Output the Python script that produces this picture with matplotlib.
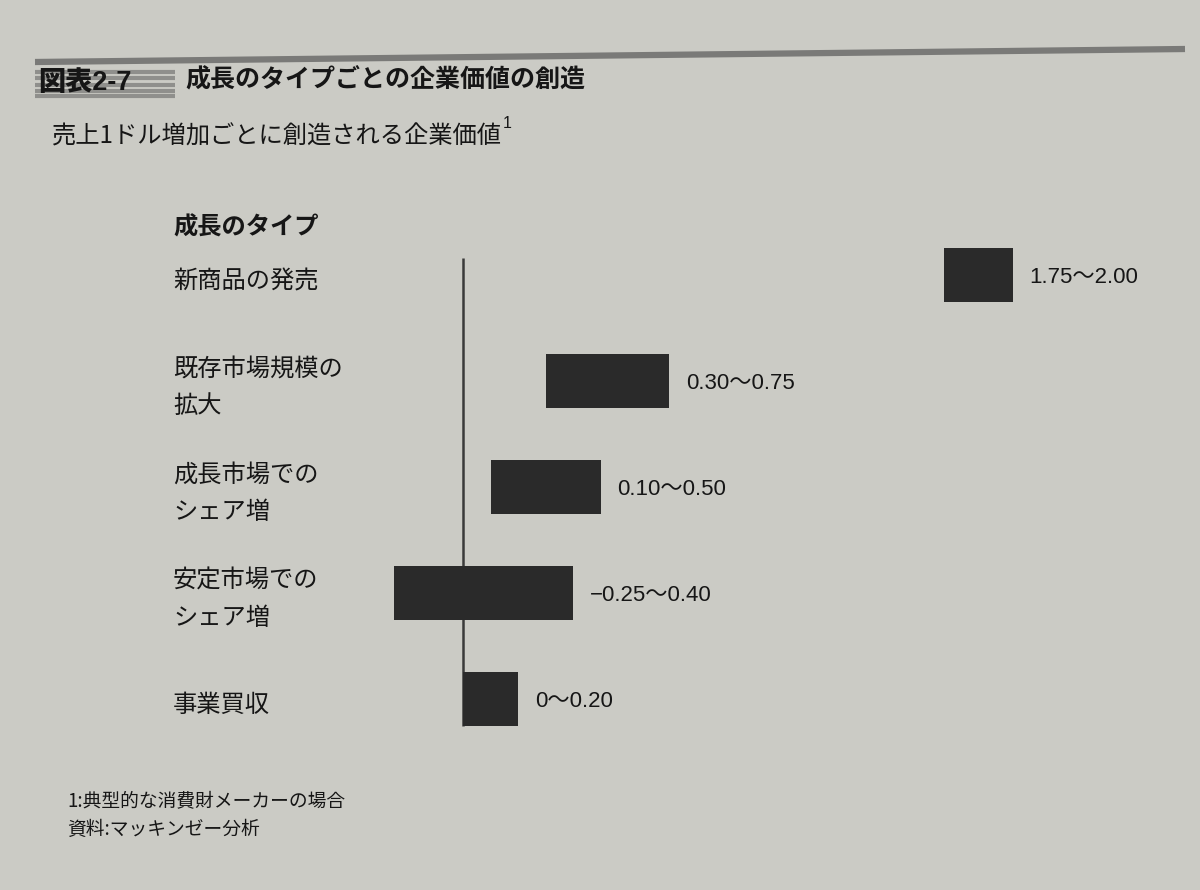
import matplotlib
matplotlib.use("Agg")
import matplotlib.pyplot as plt
from matplotlib.transforms import blended_transform_factory

plt.rcParams["font.family"] = ["Noto Sans CJK JP", "DejaVu Sans"]

# データ（売上1ドル増加ごとに創造される企業価値）
types = ["新商品の発売", "既存市場規模の\n拡大", "成長市場での\nシェア増",
         "安定市場での\nシェア増", "事業買収"]
low = [1.75, 0.30, 0.10, -0.25, 0.0]
high = [2.00, 0.75, 0.50, 0.40, 0.20]
range_labels = ["1.75〜2.00", "0.30〜0.75", "0.10〜0.50", "−0.25〜0.40", "0〜0.20"]

PAPER = "#cbcbc5"
INK = "#161616"
BAR = "#2a2a2a"
W, H = 1200, 890
LATIN = ["Liberation Sans", "Noto Sans CJK JP"]


def fx(px):
    return px / W


def fy(py):
    return 1 - py / H


fig = plt.figure(figsize=(12, 8.9), dpi=100, facecolor=PAPER)

# 上部の罫線と「図表2-7」見出し
fig.add_artist(plt.Line2D([fx(35), fx(1185)], [fy(62), fy(49)],
                          color="#7a7a78", linewidth=4.5, solid_capstyle="butt"))
for yy in (71.5, 78, 84.5, 91, 96):
    fig.add_artist(plt.Line2D([fx(35), fx(175)], [fy(yy), fy(yy)],
                              color="#8f8f8c", linewidth=3.0, solid_capstyle="butt"))
fig.text(fx(38), fy(83), "図表2-7", fontsize=19.5, fontweight="heavy", color=INK,
         va="center", ha="left", family=LATIN)
fig.text(fx(185), fy(80), "成長のタイプごとの企業価値の創造", fontsize=18,
         fontweight="bold", color=INK, va="center", ha="left")

# サブタイトル（右肩に注記番号）
sub = fig.text(fx(52), fy(137), "売上1ドル増加ごとに創造される企業価値", fontsize=17.5,
               color=INK, va="center", ha="left")
fig.canvas.draw()
bb = sub.get_window_extent()
fig.text(bb.x1 / W + 0.001, bb.y1 / H - 0.008, "1", fontsize=11.5, color=INK,
         va="bottom", ha="left", family=LATIN)

# 見出し
fig.text(fx(173), fy(228), "成長のタイプ", fontsize=17.5, fontweight="bold",
         color=INK, va="center", ha="left")

# 棒グラフ
ax = fig.add_axes([fx(380), fy(778.5), fx(1100) - fx(380), (778.5 - 222) / H])
ax.set_facecolor("none")
ax.set_xlim(-(463 - 380) / 275, (1100 - 463) / 275)
ax.set_ylim(4.75, -0.5)
ax.axis("off")

ypos = list(range(len(types)))
widths = [h - l for l, h in zip(low, high)]
ax.vlines(0, -0.16, 4.25, color="#3a3a3a", linewidth=1.8, zorder=1)
ax.barh(ypos, widths, left=low, height=0.51, color=BAR, zorder=2)

for y, h, lab in zip(ypos, high, range_labels):
    ax.annotate(lab, xy=(h, y), xytext=(12, -2), textcoords="offset points",
                va="center", ha="left", fontsize=16, color=INK, family=LATIN)

tr = blended_transform_factory(fig.transFigure, ax.transData)
for y, t in zip(ypos, types):
    ax.text(fx(173), y + 0.06, t, transform=tr, va="center", ha="left",
            fontsize=17.5, color=INK, linespacing=1.55)

# 注記
fig.text(fx(67), fy(801), "1:典型的な消費財メーカーの場合", fontsize=13.5,
         color=INK, va="center", ha="left")
fig.text(fx(67), fy(829), "資料:マッキンゼー分析", fontsize=13.5,
         color=INK, va="center", ha="left")

fig.savefig("out.png", dpi=100, facecolor=PAPER)
